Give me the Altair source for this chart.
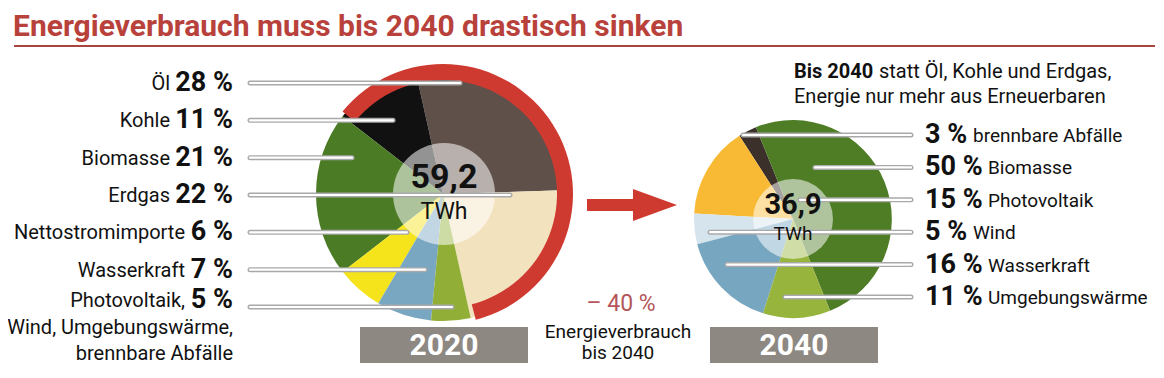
import math
import altair as alt
import pandas as pd

# ---------------- data ----------------
TITLE = "Energieverbrauch muss bis 2040 drastisch sinken"

names_2020 = ["Öl", "Kohle", "Biomasse", "Erdgas", "Nettostromimporte", "Wasserkraft", "Photovoltaik,"]
pct_2020 = [28, 11, 21, 22, 6, 7, 5]
slice_order_2020 = [0, 6, 5, 1, 4, 3, 2]          # clockwise order in the pie
extra_2020 = "Wind, Umgebungswärme,\nbrennbare Abfälle"
total_2020 = "59,2"

names_2040 = ["brennbare Abfälle", "Biomasse", "Photovoltaik", "Wind", "Wasserkraft", "Umgebungswärme"]
pct_2040 = [3, 50, 15, 5, 16, 11]
slice_order_2040 = [5, 0, 4, 3, 2, 1]
total_2040 = "36,9"

reduction_pct = 40
unit = "TWh"
years = ["2020", "2040"]
note_bold = "Bis 2040"
note_rest = "statt Öl, Kohle und Erdgas,"
note_line2 = "Energie  nur mehr aus Erneuerbaren"
reduction_lines = "Energieverbrauch\nbis 2040"

# ---------------- style / layout ----------------
FONT = "Roboto"
RED = "#cf3a30"
TITLE_RED = "#b8423b"
colors_2020 = ["#5f5049", "#111111", "#4b7b24", "#f3e2be", "#f5e31c", "#79a7c2", "#91af37"]
colors_2040 = ["#3b302a", "#4e7d26", "#f8ba35", "#d6e4ed", "#77a6c1", "#97b43c"]
BOX_GRAY = "#8e8883"

W, H = 1148, 362
L_CX, L_CY, L_R = 435, 186, 127
L_START = 347.4
RING_START = 309.4
R_CX, R_CY, R_R = 785, 211, 99
R_START = 338.0
left_line_end = [452, 385, 344, 502, 399, 417, 444]
right_line_start = [735, 807, 792, 702, 719, 777]

def rad(d):
    return d * math.pi / 180.0

one = pd.DataFrame({"k": [0]})

# ---------------- tables ----------------
left = pd.DataFrame({
    "name": names_2020, "pct": pct_2020, "pos": slice_order_2020,
    "row": list(range(len(names_2020))), "lend": left_line_end,
})
right = pd.DataFrame({
    "name": names_2040, "pct": pct_2040, "pos": slice_order_2040,
    "row": list(range(len(names_2040))), "lstart": right_line_start,
})
ring = pd.DataFrame({"share": [100 - reduction_pct]})

layers = []

# title
layers.append(alt.Chart(one).mark_text(
    text=TITLE, font=FONT, fontSize=30, fontWeight="bold", color=TITLE_RED,
    align="left", baseline="alphabetic").encode(x=alt.value(5), y=alt.value(28)))
layers.append(alt.Chart(one).mark_rule(color="#a8453e", strokeWidth=2).encode(
    x=alt.value(6), x2=alt.value(1147), y=alt.value(38)))

# pies
def pie(df, cx, cy, r, start, names, colors):
    return alt.Chart(df).mark_arc(outerRadius=r).encode(
        x=alt.value(cx), y=alt.value(cy),
        theta=alt.Theta("pct:Q", stack=True,
                        scale=alt.Scale(range=[rad(start), rad(start) + 2 * math.pi])),
        color=alt.Color("name:N", scale=alt.Scale(domain=names, range=colors), legend=None),
        order=alt.Order("pos:Q"),
    )

layers.append(pie(left, L_CX, L_CY, L_R, L_START, names_2020, colors_2020))
layers.append(alt.Chart(ring).mark_arc(innerRadius=114, outerRadius=130, color=RED).encode(
    x=alt.value(L_CX), y=alt.value(L_CY),
    theta=alt.Theta("share:Q", stack=True,
                    scale=alt.Scale(domain=[0, 100], range=[rad(RING_START), rad(RING_START) + 2 * math.pi]))))
layers.append(alt.Chart(one).mark_arc(theta=0, theta2=2 * math.pi, outerRadius=51,
                                      color="white", opacity=0.55).encode(
    x=alt.value(L_CX + 1), y=alt.value(L_CY)))

layers.append(pie(right, R_CX, R_CY, R_R, R_START, names_2040, colors_2040))
layers.append(alt.Chart(one).mark_arc(theta=0, theta2=2 * math.pi, outerRadius=40,
                                      color="white", opacity=0.55).encode(
    x=alt.value(R_CX), y=alt.value(R_CY)))

# leader lines
ly = alt.Y("row:Q", scale=alt.Scale(domain=[0, 6], range=[75, 299]), axis=None)
ry = alt.Y("row:Q", scale=alt.Scale(domain=[0, 5], range=[127, 289]), axis=None)
for sw, col in [(5, "#a9a9a9"), (2.2, "white")]:
    layers.append(alt.Chart(left).mark_rule(strokeWidth=sw, color=col, strokeCap="round").encode(
        x=alt.X("lend:Q", scale=None), x2=alt.value(242), y=ly))
    layers.append(alt.Chart(right).mark_rule(strokeWidth=sw, color=col, strokeCap="round").encode(
        x=alt.X("lstart:Q", scale=None), x2=alt.value(903), y=ry))

# left labels
PW2, PW1, GAP = 58, 43, 5
lab_left = alt.Chart(left).transform_calculate(
    plabel="datum.pct + ' %'",
    nx=f"datum.pct >= 10 ? {225 - PW2 - GAP} : {225 - PW1 - GAP}",
)
for flt, dy in [("datum.row < 6", 0), ("datum.row == 6", -7)]:
    layers.append(lab_left.transform_filter(flt).mark_text(
        font=FONT, fontSize=27, fontWeight="bold", color="#111", align="right",
        baseline="middle", dy=dy).encode(x=alt.value(225), y=ly, text="plabel:N"))
    layers.append(lab_left.transform_filter(flt).mark_text(
        font=FONT, fontSize=20, color="#111", align="right",
        baseline="middle", dy=dy + 1).encode(x=alt.X("nx:Q", scale=None), y=ly, text="name:N"))
layers.append(alt.Chart(one).mark_text(
    text=extra_2020, lineBreak="\n", lineHeight=26, font=FONT, fontSize=20, color="#111",
    align="right", baseline="middle").encode(x=alt.value(225), y=alt.value(320)))

# right labels
RPW2, RPW1 = 57, 42
lab_right = alt.Chart(right).transform_calculate(
    plabel="datum.pct + ' %'",
    nx=f"datum.pct >= 10 ? {917 + RPW2 + 6} : {917 + RPW1 + 6}",
)
layers.append(lab_right.mark_text(font=FONT, fontSize=27, fontWeight="bold", color="#111",
                                  align="left", baseline="middle").encode(
    x=alt.value(917), y=ry, text="plabel:N"))
layers.append(lab_right.mark_text(font=FONT, fontSize=19, color="#111",
                                  align="left", baseline="middle", dy=1).encode(
    x=alt.X("nx:Q", scale=None), y=ry, text="name:N"))

# center totals
def center(cx, big, bsize, big_y, usize, unit_y):
    return [
        alt.Chart(one).mark_text(text=big, font=FONT, fontSize=bsize, fontWeight="bold",
                                 color="#111", align="center", baseline="middle").encode(
            x=alt.value(cx), y=alt.value(big_y)),
        alt.Chart(one).mark_text(text=unit, font=FONT, fontSize=usize, color="#111",
                                 align="center", baseline="middle").encode(
            x=alt.value(cx), y=alt.value(unit_y)),
    ]
layers += center(L_CX + 1, total_2020, 34, 170, 23, 204)
layers += center(R_CX, total_2040, 29, 197, 19, 226)

# arrow
ARROW = "M-1,-0.133 L0.022,-0.133 L0.022,-0.356 L1,0 L0.022,0.356 L0.022,0.133 L-1,0.133 Z"
layers.append(alt.Chart(one).mark_point(shape=ARROW, size=8100, filled=True, color=RED,
                                        opacity=1).encode(x=alt.value(624), y=alt.value(197)))

# reduction text
layers.append(alt.Chart(one).mark_text(text=f"– {reduction_pct} %", font=FONT, fontSize=23,
                                       color="#b4565a", align="center", baseline="middle").encode(
    x=alt.value(613), y=alt.value(296)))
layers.append(alt.Chart(one).mark_text(text=reduction_lines, lineBreak="\n", lineHeight=21,
                                       font=FONT, fontSize=19, color="#111", align="center",
                                       baseline="middle").encode(
    x=alt.value(610), y=alt.value(324)))

# subtitle note
layers.append(alt.Chart(one).mark_text(text=note_bold, font=FONT, fontSize=20, fontWeight="bold",
                                       color="#111", align="left", baseline="middle").encode(
    x=alt.value(786), y=alt.value(64)))
layers.append(alt.Chart(one).mark_text(text=note_rest, font=FONT, fontSize=20, color="#111",
                                       align="left", baseline="middle").encode(
    x=alt.value(871), y=alt.value(64)))
layers.append(alt.Chart(one).mark_text(text=note_line2, font=FONT, fontSize=20, color="#111",
                                       align="left", baseline="middle").encode(
    x=alt.value(786), y=alt.value(89)))

# year boxes
for yr, x0 in zip(years, [352, 702]):
    layers.append(alt.Chart(one).mark_rect(color=BOX_GRAY).encode(
        x=alt.value(x0), x2=alt.value(x0 + 168), y=alt.value(319), y2=alt.value(355)))
    layers.append(alt.Chart(one).mark_text(text=yr, font=FONT, fontSize=30, fontWeight="bold",
                                           color="white", align="center", baseline="middle").encode(
        x=alt.value(x0 + 84), y=alt.value(338)))

chart = alt.layer(*layers).resolve_scale(
    x="independent", y="independent", theta="independent", color="independent"
).properties(
    width=W, height=H, padding=0, autosize=alt.AutoSizeParams(type="none"),
    background="white",
).configure_view(stroke=None)

chart.save("out.html", embed_options={"renderer": "svg", "actions": False})
